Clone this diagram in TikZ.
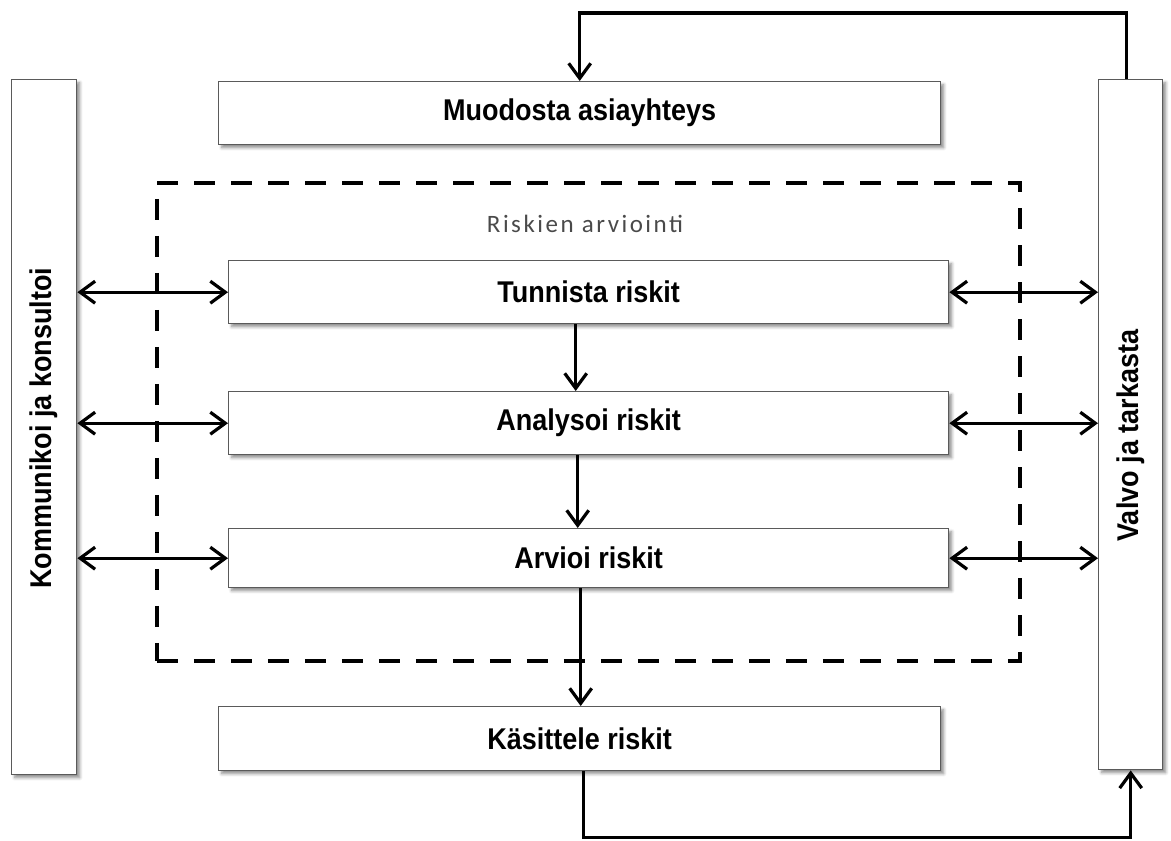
\documentclass[tikz,border=0pt]{standalone}
\usepackage{fontspec}
\usetikzlibrary{arrows.meta,shadows.blur}
\newfontfamily\boxfont[FakeStretch=0.9]{Liberation Sans}
\newfontfamily\notefont[LetterSpace=10]{Carlito}
\definecolor{edge}{HTML}{5A5A5A}
\definecolor{notegray}{HTML}{4A4A4A}
\tikzset{
  box/.style={draw=edge, line width=1.4pt, fill=white, inner sep=0pt,
    blur shadow={shadow xshift=3pt, shadow yshift=-3pt, shadow blur radius=3pt, shadow opacity=45}},
  boxtext/.style={font=\boxfont\bfseries\fontsize{30}{34}\selectfont, inner sep=0pt},
  conn/.style={line width=3.4pt, black},
  tip/.style={-{Straight Barb[length=15pt,width=22pt,line width=3.2pt]}},
  dtip/.style={{Straight Barb[length=15pt,width=22pt,line width=3.2pt]}-{Straight Barb[length=15pt,width=22pt,line width=3.2pt]}},
  dashbox/.style={draw=black, line width=3.6pt, dash pattern=on 21pt off 16pt, inner sep=0pt},
}
\begin{document}
\begin{tikzpicture}[x=1pt, y=-1pt]
\path[use as bounding box] (0,0) rectangle (1171,841);

% side columns
\node[box, anchor=north west, minimum width=65pt, minimum height=695pt] (komm) at (11,79) {};
\node[boxtext, rotate=90] (kommtext) at ([yshift=-1pt]komm.center) {Kommunikoi ja konsultoi};
\node[box, anchor=north west, minimum width=64pt, minimum height=690pt] (valvo) at (1098,79) {};
\node[boxtext, rotate=90] (valvotext) at ([yshift=-11pt]valvo.center) {Valvo ja tarkasta};

% risk assessment frame
\node[dashbox, anchor=north west, minimum width=863pt, minimum height=478pt] (arviointi) at (155,181) {};
\node[font=\notefont\fontsize{25}{29}\selectfont, text=notegray, inner sep=0pt] (arviointitext) at (585,224) {Riskien arviointi};

% process steps
\node[box, boxtext, anchor=north west, minimum width=722pt, minimum height=63pt] (muodosta) at (218,81) {Muodosta asiayhteys};
\node[box, boxtext, anchor=north west, minimum width=720pt, minimum height=63pt] (tunnista) at (228,260) {Tunnista riskit};
\node[box, boxtext, anchor=north west, minimum width=720pt, minimum height=63pt] (analysoi) at (228,391) {Analysoi riskit};
\node[box, boxtext, anchor=north west, minimum width=720pt, minimum height=59pt] (arvioi) at (228,528) {Arvioi riskit};
\node[box, boxtext, anchor=north west, minimum width=722pt, minimum height=64pt] (kasittele) at (218,706) {Käsittele riskit};

% main flow
\draw[conn, tip] ([xshift=-13pt]tunnista.south) -- ([xshift=-13pt]analysoi.north);
\draw[conn, tip] ([xshift=-11pt]analysoi.south) -- ([xshift=-11pt]arvioi.north);
\draw[conn, tip] ([xshift=-8pt]arvioi.south) -- ([xshift=-8pt]arvioi.south |- kasittele.north);

% feedback loops
\draw[conn, tip] ([xshift=-4pt]valvo.north) -- ++(0,-66) -| (muodosta.north);
\draw[conn, tip] ([xshift=4pt]kasittele.south) -- ++(0,66) -| (valvo.south);

% communication and monitoring links
\foreach \n in {tunnista, analysoi, arvioi}{
  \draw[conn, dtip] (komm.east |- \n.west) -- (\n.west);
  \draw[conn, dtip] (\n.east) -- (valvo.west |- \n.east);
}
\end{tikzpicture}
\end{document}
